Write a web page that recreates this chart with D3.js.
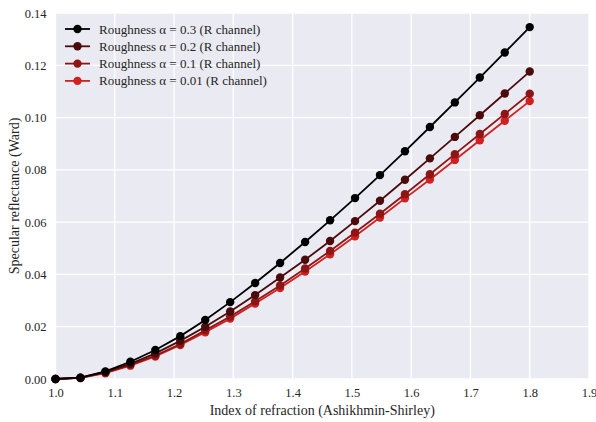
<!DOCTYPE html>
<html>
<head>
<meta charset="utf-8">
<script src="https://cdn.jsdelivr.net/npm/d3@7"></script>
<style>
  html, body { margin: 0; padding: 0; background: #ffffff; }
  svg { display: block; }
  text { font-family: "Liberation Serif", "DejaVu Serif", serif; fill: #262626; }
</style>
</head>
<body>
<svg id="chart" width="596" height="422"></svg>
<script>
// ---- data ----
const iorValues = [1.0, 1.0421, 1.0842, 1.1263, 1.1684, 1.2105, 1.2526, 1.2947, 1.3368, 1.3789,
                   1.4211, 1.4632, 1.5053, 1.5474, 1.5895, 1.6316, 1.6737, 1.7158, 1.7579, 1.8];
const rough03 = [0.0, 0.0005, 0.0029, 0.0066, 0.0111, 0.0164, 0.0226, 0.0294, 0.0367, 0.0444,
                 0.0524, 0.0607, 0.0692, 0.0780, 0.0871, 0.0964, 0.1058, 0.1153, 0.1249, 0.1346];
const rough02 = [0.0, 0.0005, 0.0027, 0.0058, 0.0098, 0.0146, 0.0200, 0.0258, 0.0321, 0.0388,
                 0.0456, 0.0528, 0.0604, 0.0682, 0.0762, 0.0844, 0.0926, 0.1009, 0.1092, 0.1176];
const rough01 = [0.0, 0.0004, 0.0024, 0.0054, 0.0090, 0.0134, 0.0186, 0.0239, 0.0297, 0.0358,
                 0.0423, 0.0490, 0.0560, 0.0632, 0.0707, 0.0783, 0.0860, 0.0937, 0.1014, 0.1091];
const rough001 = [0.0, 0.0004, 0.0022, 0.0051, 0.0086, 0.0130, 0.0179, 0.0231, 0.0289, 0.0348,
                  0.0411, 0.0477, 0.0546, 0.0618, 0.0691, 0.0763, 0.0838, 0.0913, 0.0988, 0.1063];
const seriesLabels = ["Roughness \u03B1 = 0.3 (R channel)", "Roughness \u03B1 = 0.2 (R channel)",
                      "Roughness \u03B1 = 0.1 (R channel)", "Roughness \u03B1 = 0.01 (R channel)"];
const seriesColors = ["#000000", "#4a0b0b", "#8e1515", "#d21f1f"];
const xTicks = [1.0, 1.1, 1.2, 1.3, 1.4, 1.5, 1.6, 1.7, 1.8, 1.9];
const yTicks = [0.00, 0.02, 0.04, 0.06, 0.08, 0.10, 0.12, 0.14];
const xTitle = "Index of refraction (Ashikhmin-Shirley)";
const yTitle = "Specular reflectance (Ward)";

const series = [rough03, rough02, rough01, rough001].map((vals, k) => ({
  label: seriesLabels[k], color: seriesColors[k],
  points: vals.map((v, i) => ({ x: iorValues[i], y: v }))
}));

// ---- layout ----
const svg = d3.select("#chart");
const margin = { left: 55.5, right: 7, top: 13, bottom: 43 };
const W = 596, H = 422;
const x = d3.scaleLinear().domain([1.0, 1.9]).range([margin.left, W - margin.right]);
const y = d3.scaleLinear().domain([0, 0.14]).range([H - margin.bottom, margin.top]);

// background
svg.append("rect")
  .attr("x", x(1.0)).attr("y", y(0.14))
  .attr("width", x(1.9) - x(1.0)).attr("height", y(0) - y(0.14))
  .attr("fill", "#EAEAF2");

// grid
const grid = svg.append("g");
grid.selectAll("line.vx").data(xTicks).join("line")
  .attr("x1", d => x(d)).attr("x2", d => x(d))
  .attr("y1", y(0)).attr("y2", y(0.14))
  .attr("stroke", "#ffffff").attr("stroke-width", 1.3);
grid.selectAll("line.hy").data(yTicks).join("line")
  .attr("y1", d => y(d)).attr("y2", d => y(d))
  .attr("x1", x(1.0)).attr("x2", x(1.9))
  .attr("stroke", "#ffffff").attr("stroke-width", 1.3);

// axes (labels only)
const xAxis = d3.axisBottom(x).tickValues(xTicks).tickFormat(d3.format(".1f")).tickSize(0).tickPadding(9);
const yAxis = d3.axisLeft(y).tickValues(yTicks).tickFormat(d3.format(".2f")).tickSize(0).tickPadding(9);
const gx = svg.append("g").attr("transform", `translate(0,${y(0)})`).call(xAxis);
const gy = svg.append("g").attr("transform", `translate(${x(1.0)},0)`).call(yAxis);
[gx, gy].forEach(g => {
  g.select(".domain").remove();
  g.selectAll("text").attr("font-size", 12.5).attr("font-family", "Liberation Serif, DejaVu Serif, serif").attr("fill", "#262626");
});

// titles
svg.append("text").attr("x", (x(1.0) + x(1.9)) / 2).attr("y", 415)
  .attr("text-anchor", "middle").attr("font-size", 14).text(xTitle);
svg.append("text").attr("transform", `translate(19,${(y(0) + y(0.14)) / 2}) rotate(-90)`)
  .attr("text-anchor", "middle").attr("font-size", 14).text(yTitle);

// lines & markers (draw lowest first so black on top)
const line = d3.line().x(d => x(d.x)).y(d => y(d.y));
const plotG = svg.append("g");
series.slice().reverse().forEach(s => {
  const g = plotG.append("g");
  g.append("path").datum(s.points).attr("d", line)
    .attr("fill", "none").attr("stroke", s.color).attr("stroke-width", 1.8);
  g.selectAll("circle").data(s.points).join("circle")
    .attr("cx", d => x(d.x)).attr("cy", d => y(d.y)).attr("r", 4.2)
    .attr("fill", s.color);
});

// legend
const leg = svg.append("g").attr("transform", "translate(65,29)");
series.forEach((s, k) => {
  const row = leg.append("g").attr("transform", `translate(0,${k * 17.3})`);
  row.append("line").attr("x1", 0).attr("x2", 25).attr("y1", 0).attr("y2", 0)
    .attr("stroke", s.color).attr("stroke-width", 1.8);
  row.append("circle").attr("cx", 12.5).attr("cy", 0).attr("r", 4.2).attr("fill", s.color);
  row.append("text").attr("x", 34).attr("y", 4.5).attr("font-size", 13).text(s.label);
});
</script>
</body>
</html>
